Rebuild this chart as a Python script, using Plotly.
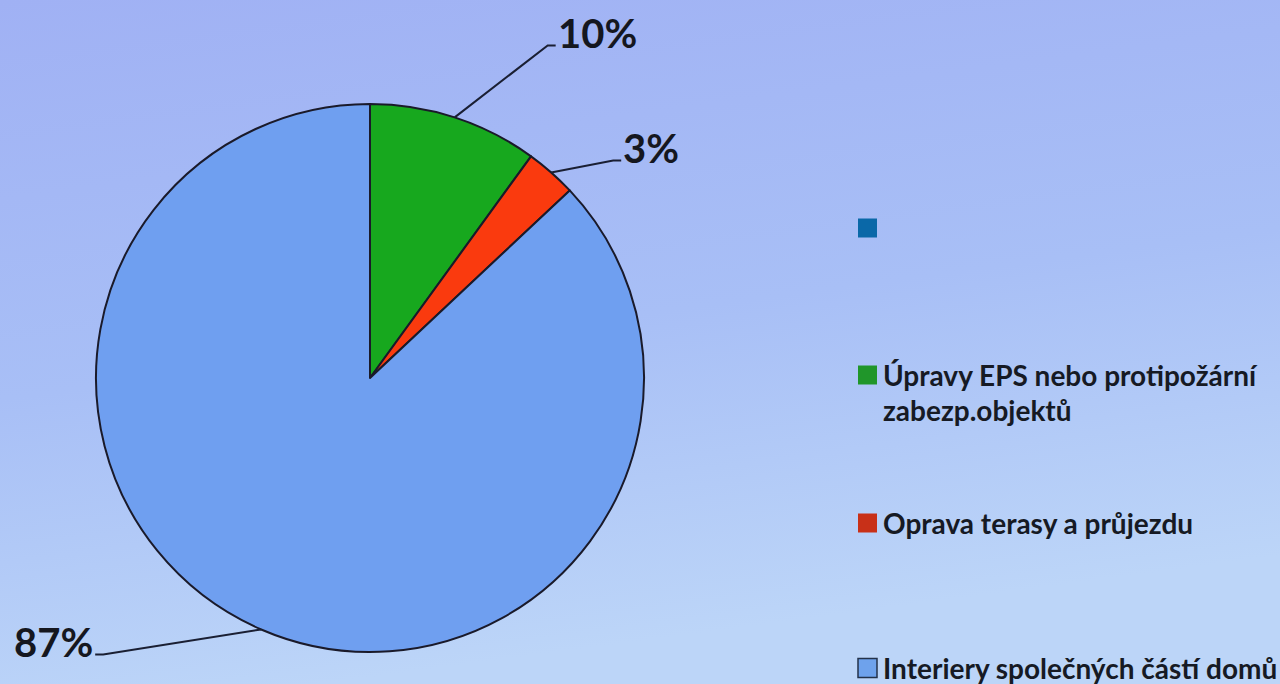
import math
import base64
import plotly.graph_objects as go

# ---- data ----
slice_labels = ["Úpravy EPS nebo protipožární zabezp.objektů",
                "Oprava terasy a průjezdu",
                "Interiery společných částí domů"]
slice_values = [10, 3, 87]
slice_colors = ["#17a81e", "#fa3a0e", "#6f9ff0"]
pct_labels = ["10%", "3%", "87%"]

legend_names = ["", "Úpravy EPS nebo protipožární\nzabezp.objektů",
                "Oprava terasy a průjezdu", "Interiery společných částí domů"]
legend_colors = ["#0a68a8", "#20962a", "#c83018", "#6ea2ec"]

# ---- layout constants (pixels) ----
W, H = 1280, 684
cx, cy, R = 370, 378, 274
label_elbows = [(93, -72), (62, -12), (-158, 25)]
label_text_gap = [8, 8, -8]
legend_x, legend_sq = 858, 19
legend_y = [228, 375, 523, 668]
legend_line_step = 35

def px(x):
    return x / W

def py(y):
    return 1 - y / H

fig = go.Figure()

fig.add_trace(go.Pie(
    labels=slice_labels, values=slice_values,
    marker=dict(colors=slice_colors, line=dict(color="#1a1a2a", width=2)),
    sort=False, direction="clockwise", rotation=0,
    textinfo="none", hoverinfo="label+percent", showlegend=False,
    domain=dict(x=[px(cx - R), px(cx + R)], y=[py(cy + R), py(cy - R)]),
))

total = sum(slice_values)
cum = 0
shapes = []
annotations = []
for i, v in enumerate(slice_values):
    mid = (cum + v / 2) / total * 2 * math.pi
    cum += v
    mx = cx + R * math.sin(mid)
    my = cy - R * math.cos(mid)
    ex = mx + label_elbows[i][0]
    ey = my + label_elbows[i][1]
    tx = ex + label_text_gap[i]
    shapes.append(dict(
        type="path", xref="paper", yref="paper",
        path=f"M {px(mx)},{py(my)} L {px(ex)},{py(ey)} L {px(tx)},{py(ey)}",
        line=dict(color="#1a1f33", width=2),
    ))
    annotations.append(dict(
        x=px(tx), y=py(ey - 12), xref="paper", yref="paper",
        text=pct_labels[i], showarrow=False,
        xanchor="left" if label_text_gap[i] > 0 else "right", yanchor="middle",
        font=dict(family="Lato", size=40, color="#15171f", weight="bold"),
    ))

# legend drawn as squares + text
for i, (name, col) in enumerate(zip(legend_names, legend_colors)):
    yc = legend_y[i]
    line = dict(color="#23324a", width=1.5) if i == 3 else dict(width=0)
    shapes.append(dict(
        type="rect", xref="paper", yref="paper",
        x0=px(legend_x), x1=px(legend_x + legend_sq),
        y0=py(yc - legend_sq / 2), y1=py(yc + legend_sq / 2),
        fillcolor=col, line=line,
    ))
    for k, txt in enumerate(name.split("\n")):
        if not txt:
            continue
        annotations.append(dict(
            x=px(legend_x + legend_sq + 4), y=py(yc + k * legend_line_step),
            xref="paper", yref="paper", text=txt, showarrow=False,
            xanchor="left", yanchor="middle",
            font=dict(family="Lato", size=28, color="#161a24", weight="bold"),
        ))

svg = ('<svg xmlns="http://www.w3.org/2000/svg" width="100" height="100" preserveAspectRatio="none">'
       '<defs><linearGradient id="g" x1="0" y1="0" x2="0.25" y2="1">'
       '<stop offset="0" stop-color="#a0b1f4"/><stop offset="0.55" stop-color="#a8bff6"/>'
       '<stop offset="1" stop-color="#bcd5f8"/></linearGradient></defs>'
       '<rect width="100" height="100" fill="url(#g)"/></svg>')
bg = "data:image/svg+xml;base64," + base64.b64encode(svg.encode()).decode()

fig.update_layout(
    width=W, height=H,
    margin=dict(l=0, r=0, t=0, b=0),
    paper_bgcolor="#b4cbf7", plot_bgcolor="rgba(0,0,0,0)",
    xaxis=dict(visible=False), yaxis=dict(visible=False),
    showlegend=False,
    shapes=shapes, annotations=annotations,
    images=[dict(source=bg, xref="paper", yref="paper", x=0, y=1,
                 sizex=1, sizey=1, xanchor="left", yanchor="top",
                 sizing="stretch", layer="below")],
)

fig.write_html("out.html", config={"displayModeBar": False})
